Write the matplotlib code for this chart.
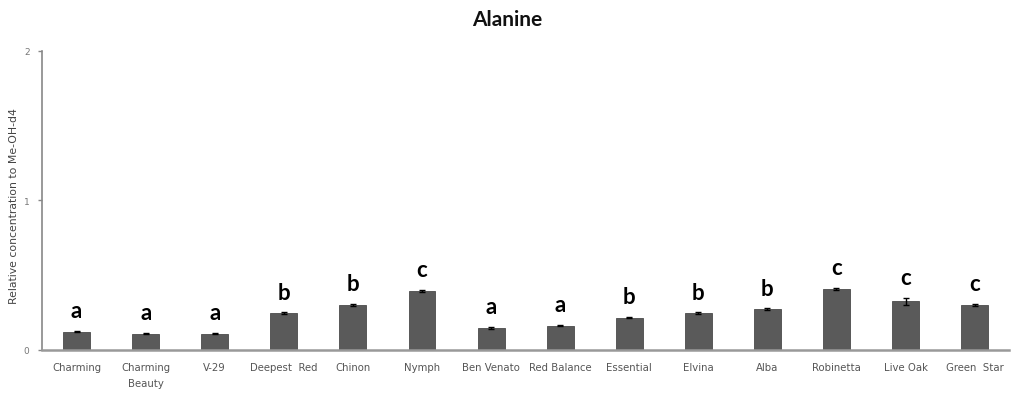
import matplotlib
matplotlib.use("Agg")
import matplotlib.pyplot as plt
import numpy as np

cultivars = ["Charming", "Charming\nBeauty", "V-29", "Deepest  Red", "Chinon", "Nymph",
             "Ben Venato", "Red Balance", "Essential", "Elvina", "Alba", "Robinetta",
             "Live Oak", "Green  Star"]
means = [0.122, 0.109, 0.109, 0.245, 0.300, 0.393, 0.149, 0.162, 0.215, 0.245,
         0.271, 0.407, 0.325, 0.300]
errors = [0.004, 0.004, 0.004, 0.007, 0.008, 0.008, 0.007, 0.004, 0.004, 0.007,
          0.007, 0.006, 0.024, 0.007]
groups = ["a", "a", "a", "b", "b", "c", "a", "a", "b", "b", "b", "c", "c", "c"]
y_ticks = [0, 1, 2]

fig = plt.figure(figsize=(10.18, 4.02), dpi=100)
ax = fig.add_axes([0.0413, 0.127, 0.950, 0.744])

x = np.arange(len(cultivars))
ax.bar(x, means, width=0.39, color="#5a5a5a", edgecolor="#4a4a4a", linewidth=0.6,
       yerr=errors, error_kw=dict(ecolor="black", elinewidth=1.0, capsize=2.5, capthick=1.0),
       zorder=2)

for xi, m, e, g in zip(x, means, errors, groups):
    ax.annotate(g, (xi, m + e), xytext=(0, 7), textcoords="offset points",
                ha="center", va="bottom", fontsize=16, fontweight="bold",
                family=["Lato", "DejaVu Sans"], color="black")

ax.set_xlim(-0.5, len(cultivars) - 0.5)
ax.set_ylim(0, 2)
ax.set_yticks(y_ticks)
ax.set_yticklabels([str(t) for t in y_ticks], fontsize=6.5, color="#777777")
ax.set_xticks(x)
ax.set_xticklabels(cultivars, fontsize=7.3, color="#555555", linespacing=1.75)
ax.tick_params(axis="x", length=0, pad=9)
ax.tick_params(axis="y", length=3, width=1, color="#888888", pad=6)

for side in ("top", "right"):
    ax.spines[side].set_visible(False)
ax.spines["left"].set_color("#888888")
ax.spines["left"].set_linewidth(1.2)
ax.spines["bottom"].set_color("#999999")
ax.spines["bottom"].set_linewidth(1.8)

fig.text(14 / 1018, 1 - 206 / 402, "Relative concentration to Me-OH-d4", rotation=90,
         ha="center", va="center", fontsize=7.8, color="#444444")

fig.text(507 / 1018, 1 - 20 / 402, "Alanine", ha="center", va="center",
         fontsize=15, fontweight="bold", family=["Lato", "DejaVu Sans"], color="#111111")

fig.savefig("out.png", dpi=100)
